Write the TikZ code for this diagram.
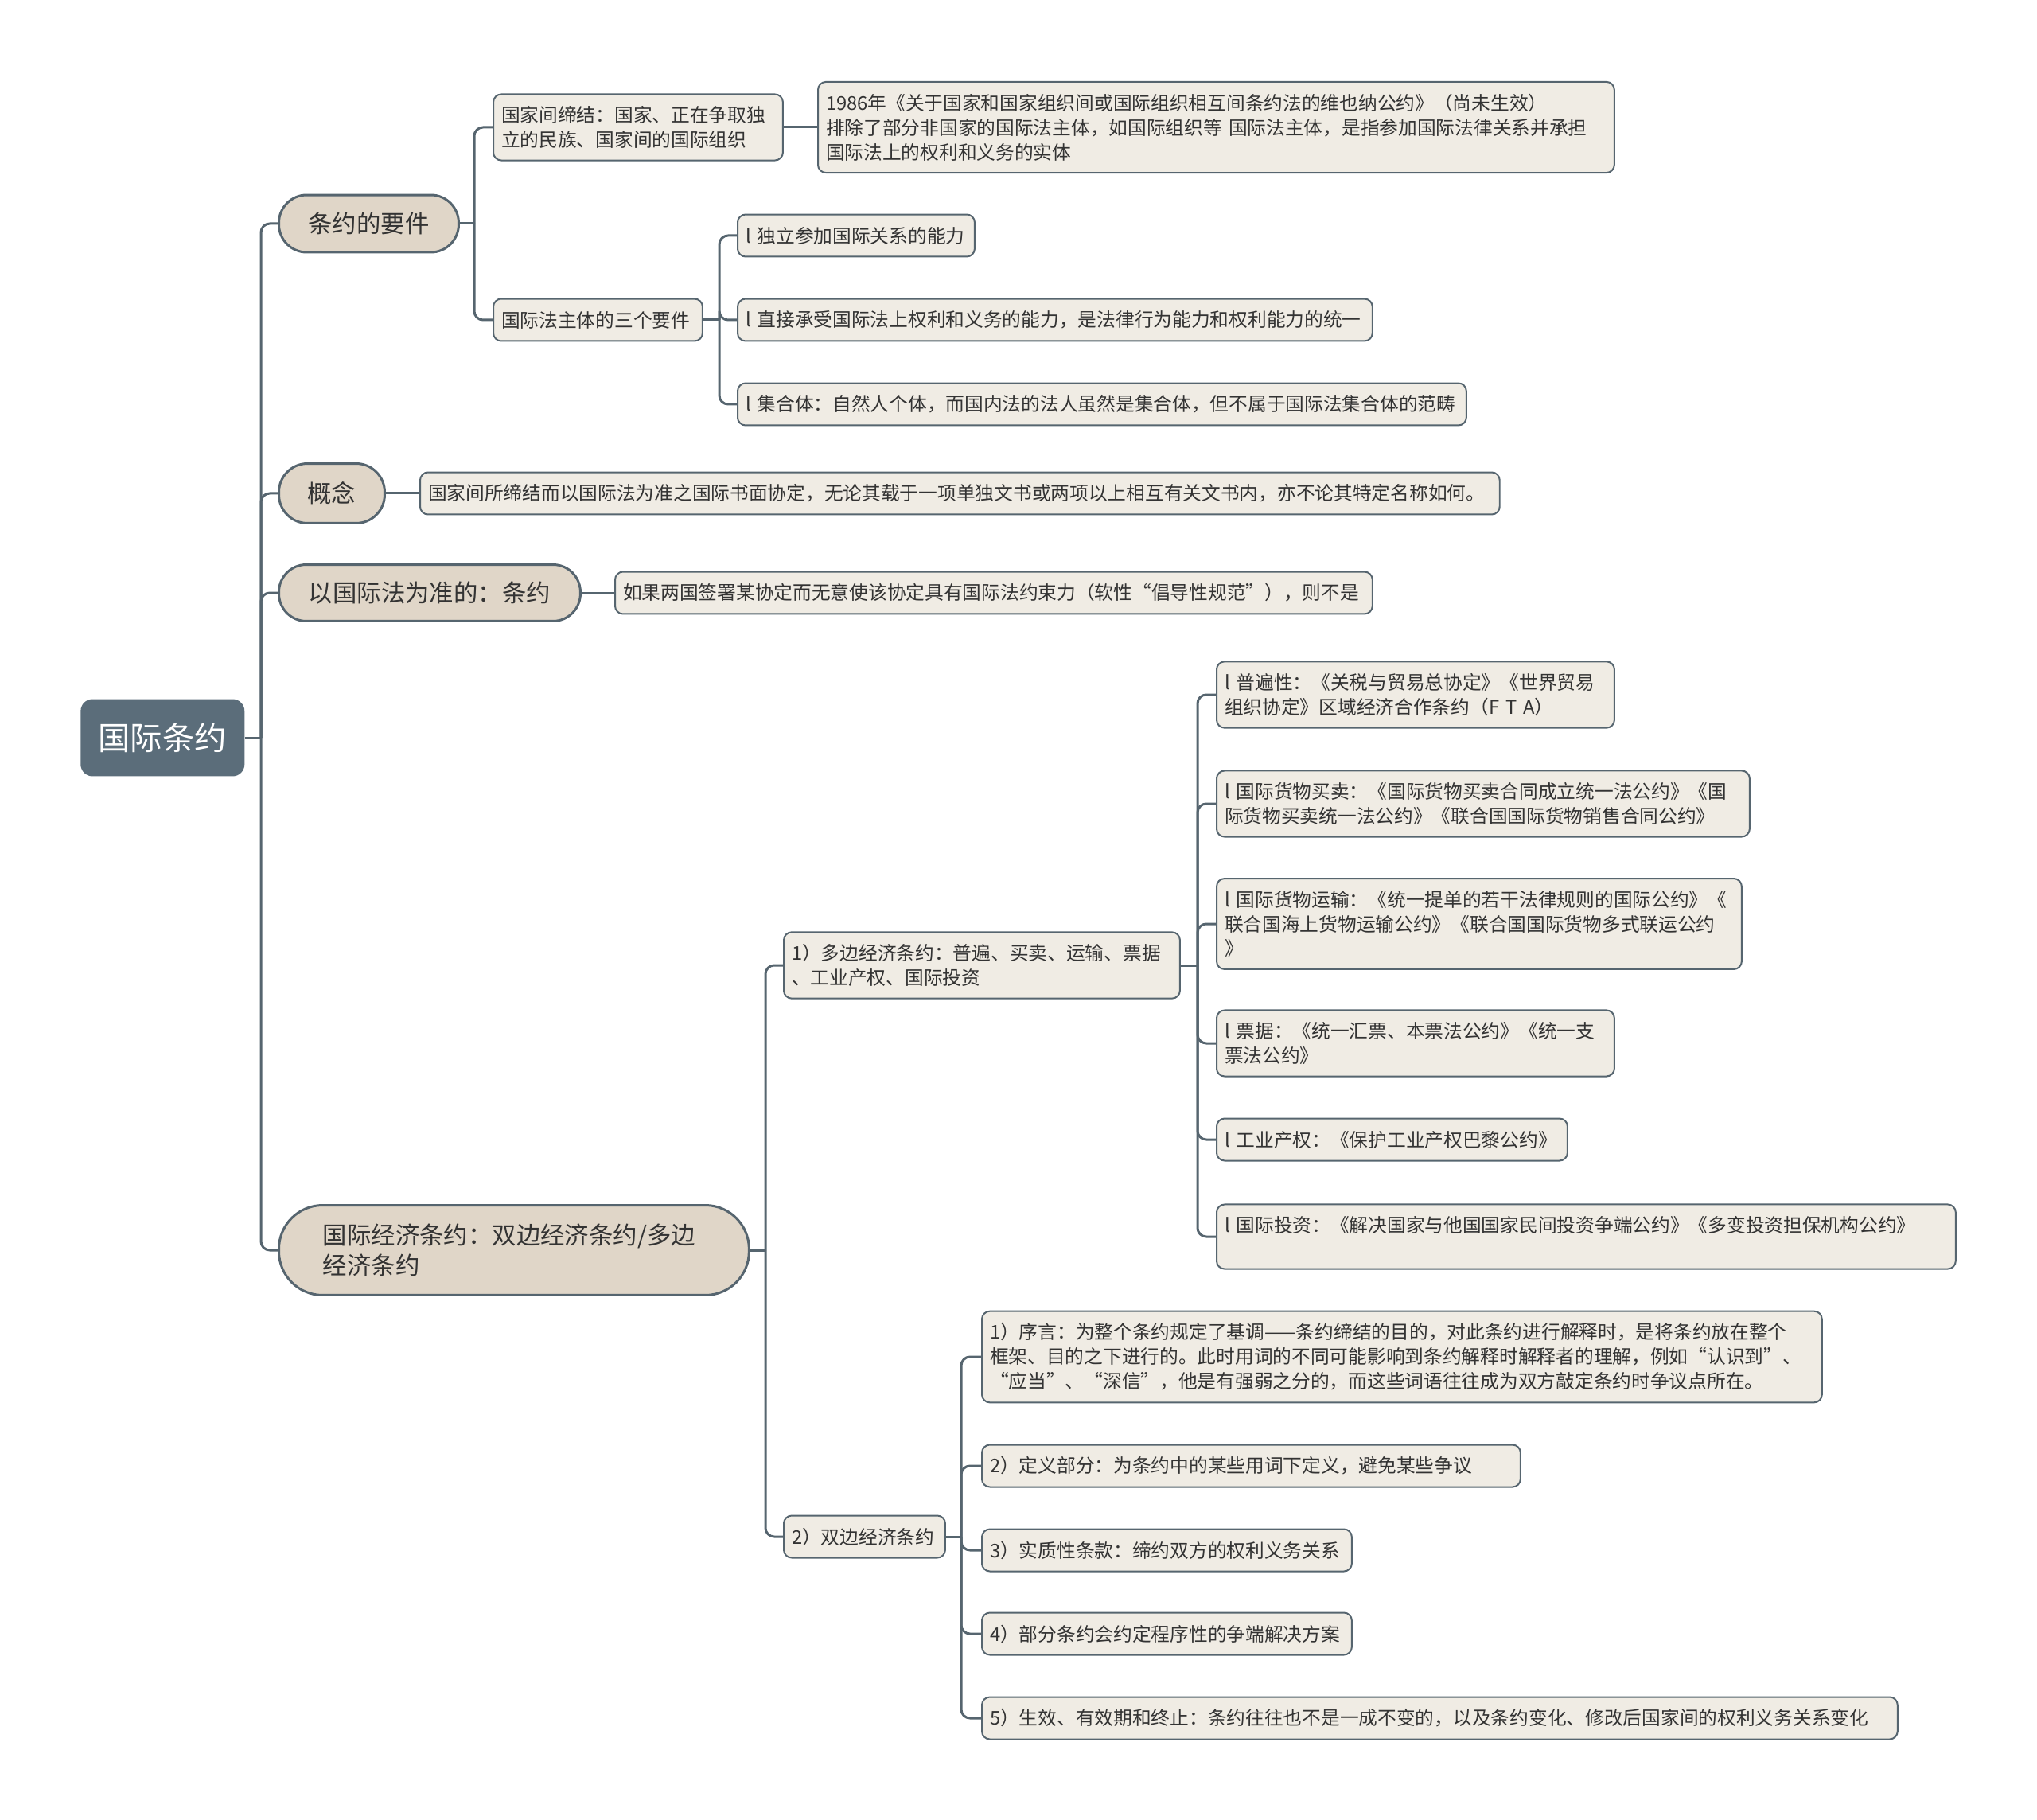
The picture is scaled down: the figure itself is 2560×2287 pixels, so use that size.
\documentclass[tikz,border=0pt]{standalone}
\usepackage{fontspec}
\setmainfont{Noto Sans CJK SC}
\definecolor{rootc}{HTML}{5B6D7A}
\definecolor{branchc}{HTML}{E0D6C8}
\definecolor{leafc}{HTML}{F0ECE4}
\definecolor{linec}{HTML}{56656F}
\definecolor{textc}{HTML}{333333}
\begin{document}
\begin{tikzpicture}[x=0.02cm, y=-0.02cm,
    zhu/.style={fill=rootc, text=white, rounded corners=0.3cm, minimum width=4.12cm, minimum height=1.94cm, anchor=west, font=\fontsize{23pt}{28pt}\selectfont},
    zhi/.style={draw=linec, line width=0.06cm, fill=branchc, text=textc, inner sep=0pt, anchor=west, font=\fontsize{17.3pt}{22pt}\selectfont},
    ye/.style={draw=linec, line width=0.04cm, fill=leafc, text=textc, rounded corners=0.2cm, align=left, anchor=west, inner xsep=0.2cm, inner ysep=0.3cm, minimum height=1.06cm, text width=#1, font=\fontsize{13.5pt}{17.6pt}\selectfont},
    lian/.style={draw=linec, line width=0.06cm, rounded corners=0.22cm}]
    \useasboundingbox (0,0) rectangle (2560,2287);
    % root and main branches
    \node[zhu] (gj) at (101,927) {国际条约};
    \node[zhi, minimum width=4.52cm, minimum height=1.44cm, rounded corners=0.7cm] (yj) at (349,281) {条约的要件};
    \node[zhi, minimum width=2.66cm, minimum height=1.5cm, rounded corners=0.72cm] (gn) at (349,620) {概念};
    \node[zhi, minimum width=7.58cm, minimum height=1.42cm, rounded corners=0.69cm] (zy) at (349,745) {以国际法为准的：条约};
    \node[zhi, minimum width=11.82cm, minimum height=2.26cm, rounded corners=1.1cm, text width=9.6cm, align=left] (jj) at (349,1571) {国际经济条约：双边经济条约/多边\\经济条约};
    % 条约的要件
    \node[ye=6.88cm] (jd) at (619,160) {国家间缔结：国家、正在争取独\\立的民族、国家间的国际组织};
    \node[ye=19.62cm] (wy) at (1027,160) {1986年《关于国家和国家组织间或国际组织相互间条约法的维也纳公约》（尚未生效）\\排除了部分非国家的国际法主体，如国际组织等~国际法主体，是指参加国际法律关系并承担\\国际法上的权利和义务的实体};
    \node[ye=4.86cm] (st) at (619,402) {国际法主体的三个要件};
    \node[ye=5.56cm] (n1) at (926,296) {l~独立参加国际关系的能力};
    \node[ye=15.56cm] (n2) at (926,402) {l~直接承受国际法上权利和义务的能力，是法律行为能力和权利能力的统一};
    \node[ye=17.92cm] (n3) at (926,508) {l~集合体：自然人个体，而国内法的法人虽然是集合体，但不属于国际法集合体的范畴};
    % 概念, 以国际法为准
    \node[ye=26.74cm] (gnl) at (527,620) {国家间所缔结而以国际法为准之国际书面协定，无论其载于一项单独文书或两项以上相互有关文书内，亦不论其特定名称如何。};
    \node[ye=18.64cm] (zyl) at (772,745) {如果两国签署某协定而无意使该协定具有国际法约束力（软性“倡导性规范”），则不是};
    % 国际经济条约
    \node[ye=9.56cm] (db) at (984,1213) {1）多边经济条约：普遍、买卖、运输、票据\\、工业产权、国际投资};
    \node[ye=3.66cm] (sb) at (984,1931) {2）双边经济条约};
    \node[ye=9.6cm] (m1) at (1528,873) {l~普遍性：《关税与贸易总协定》《世界贸易\\组织协定》区域经济合作条约（F~T~A）};
    \node[ye=13.0cm] (m2) at (1528,1010) {l~国际货物买卖：《国际货物买卖合同成立统一法公约》《国\\际货物买卖统一法公约》《联合国国际货物销售合同公约》};
    \node[ye=12.8cm] (m3) at (1528,1161) {l~国际货物运输：《统一提单的若干法律规则的国际公约》《\\联合国海上货物运输公约》《联合国国际货物多式联运公约\\》};
    \node[ye=9.6cm] (m4) at (1528,1311) {l~票据：《统一汇票、本票法公约》《统一支\\票法公约》};
    \node[ye=8.42cm] (m5) at (1528,1432) {l~工业产权：《保护工业产权巴黎公约》};
    \node[ye=18.18cm] (m6) at (1528,1554) {l~国际投资：《解决国家与他国国家民间投资争端公约》《多变投资担保机构公约》\\~};
    \node[ye=20.72cm] (p1) at (1233,1705) {1）序言：为整个条约规定了基调——条约缔结的目的，对此条约进行解释时，是将条约放在整个\\框架、目的之下进行的。此时用词的不同可能影响到条约解释时解释者的理解，例如“认识到”、\\“应当”、“深信”，他是有强弱之分的，而这些词语往往成为双方敲定条约时争议点所在。};
    \node[ye=13.14cm] (p2) at (1233,1842) {2）定义部分：为条约中的某些用词下定义，避免某些争议};
    \node[ye=8.9cm] (p3) at (1233,1948) {3）实质性条款：缔约双方的权利义务关系};
    \node[ye=8.9cm] (p4) at (1233,2053) {4）部分条约会约定程序性的争端解决方案};
    \node[ye=22.62cm] (p5) at (1233,2159) {5）生效、有效期和终止：条约往往也不是一成不变的，以及条约变化、修改后国家间的权利义务关系变化};
    % connectors
    \coordinate (t0) at (328,927);
    \coordinate (t1) at (596,281);
    \coordinate (t2) at (904,402);
    \coordinate (t3) at (962,1571);
    \coordinate (t4) at (1505,1213);
    \coordinate (t5) at (1208,1931);
    \draw[lian] (gj.east) -- (t0);
    \foreach \n in {yj,gn,zy,jj} \draw[lian] (t0) |- (\n.west);
    \draw[lian] (yj.east) -- (t1);
    \foreach \n in {jd,st} \draw[lian] (t1) |- (\n.west);
    \draw[lian] (jd.east) -- (wy.west);
    \draw[lian] (st.east) -- (t2);
    \foreach \n in {n1,n2,n3} \draw[lian] (t2) |- (\n.west);
    \draw[lian] (gn.east) -- (gnl.west);
    \draw[lian] (zy.east) -- (zyl.west);
    \draw[lian] (jj.east) -- (t3);
    \foreach \n in {db,sb} \draw[lian] (t3) |- (\n.west);
    \draw[lian] (db.east) -- (t4);
    \foreach \n in {m1,m2,m3,m4,m5,m6} \draw[lian] (t4) |- (\n.west);
    \draw[lian] (sb.east) -- (t5);
    \foreach \n in {p1,p2,p3,p4,p5} \draw[lian] (t5) |- (\n.west);
\end{tikzpicture}
\end{document}
